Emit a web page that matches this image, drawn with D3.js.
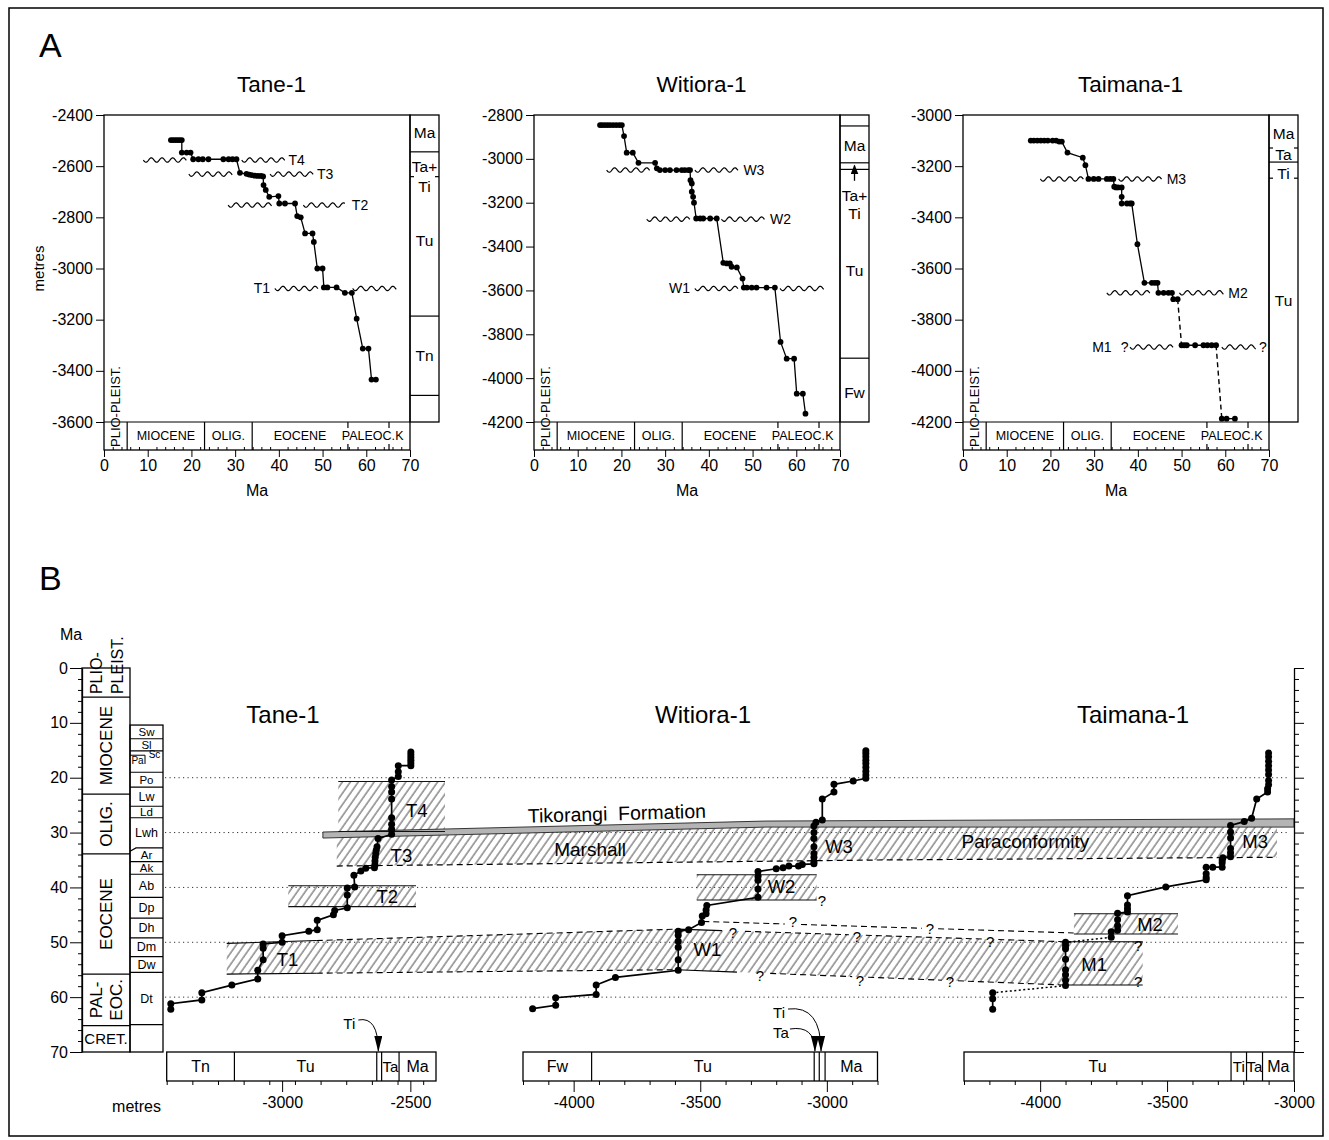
<!DOCTYPE html>
<html>
<head>
<meta charset="utf-8">
<script src="https://cdn.jsdelivr.net/npm/d3@7/dist/d3.min.js"></script>
<style>
  body { margin: 0; background: #fff; }
  svg text { font-family: "Liberation Sans", Arial, Helvetica, sans-serif; fill: #000; }
</style>
</head>
<body>
<svg id="fig" width="1329" height="1140"></svg>
<script>
// ---- age (Ma) / depth (m) picks for each well ----
const tanePoints = [[15.3,-2498],[15.8,-2498],[16.3,-2498],[16.8,-2498],[17.3,-2498],[17.8,-2498],
  [17.8,-2547],[18.9,-2547],[19.8,-2547],[20.4,-2573],[21.6,-2573],[22.6,-2573],[23.9,-2573],
  [27.3,-2573],[28.5,-2573],[29.4,-2573],[30.3,-2573],[31.1,-2626],[32.6,-2630],[33.2,-2633],
  [33.8,-2635],[34.5,-2637],[35.2,-2638],[35.9,-2638],[36.4,-2640],[36.5,-2674],[37.0,-2693],
  [37.8,-2720],[39.9,-2717],[40.1,-2746],[41.4,-2746],[43.7,-2746],[44.2,-2795],[45.0,-2800],
  [46.0,-2863],[47.7,-2863],[48.0,-2896],[48.8,-3000],[50.0,-3000],[50.3,-3074],[51.1,-3074],
  [53.2,-3074],[55.1,-3095],[56.7,-3095],[57.8,-3196],[59.2,-3313],[60.5,-3313],[61.2,-3434],[62.2,-3434]];
const witioraPoints = [[15.1,-2846],[15.6,-2846],[16.2,-2846],[16.8,-2846],[17.4,-2846],[18.1,-2846],
  [18.8,-2846],[19.5,-2846],[20.1,-2846],[20.6,-2896],[21.2,-2972],[22.6,-2972],[23.9,-3018],
  [27.7,-3018],[28.1,-3043],[28.8,-3051],[30.0,-3051],[31.1,-3051],[32.6,-3051],[33.8,-3051],
  [34.5,-3051],[35.3,-3051],[35.7,-3051],[35.8,-3097],[36.1,-3112],[36.1,-3150],[36.4,-3173],
  [36.6,-3200],[37.1,-3272],[38.0,-3272],[38.7,-3272],[40.3,-3272],[41.8,-3272],[43.3,-3474],
  [44.1,-3477],[44.8,-3477],[45.2,-3492],[46.4,-3495],[47.7,-3546],[48.0,-3587],[48.7,-3587],
  [49.8,-3587],[50.9,-3587],[53.2,-3587],[55.1,-3587],[56.4,-3835],[57.8,-3911],[59.5,-3911],
  [60.1,-4071],[61.5,-4071],[62.1,-4162]];
const taimanaUpper = [[15.5,-3100],[16.2,-3100],[17.0,-3100],[17.8,-3100],[18.6,-3100],[19.4,-3100],
  [20.5,-3100],[21.3,-3100],[22.0,-3104],[22.6,-3104],[23.9,-3147],[27.4,-3167],[28.0,-3196],
  [28.7,-3250],[29.9,-3250],[31.0,-3250],[32.9,-3250],[33.7,-3250],[34.4,-3250],[34.6,-3280],
  [35.0,-3283],[35.5,-3283],[36.3,-3283],[36.3,-3320],[36.3,-3346],[37.5,-3346],[38.2,-3346],
  [38.6,-3346],[39.9,-3505],[41.5,-3656],[43.2,-3656],[43.9,-3656],[44.5,-3656],[44.7,-3695],
  [45.9,-3695],[47.0,-3695],[47.8,-3695],[48.1,-3720],[49.1,-3720]];
const taimanaMiddle = [[50.0,-3900],[50.6,-3900],[51.2,-3900],[53.1,-3900],[55.0,-3900],[55.9,-3900],[56.9,-3900],[57.9,-3900]];
const taimanaLower = [[59.2,-4187],[60.3,-4187],[62.2,-4187]];

// unconformities, panel A: [name, depth, wavy age spans, label age, label side, '?' ages]
const taneUnconf = [
  ['T4', -2576, [[9, 18.9], [31.5, 41.4]], 42.2, 'r', []],
  ['T3', -2631, [[19.4, 29.4], [38, 47.9]], 48.7, 'r', []],
  ['T2', -2752, [[28.4, 38.4], [45.6, 55.1]], 56.7, 'r', []],
  ['T1', -3078, [[39.1, 49], [56.9, 66.9]], 38.0, 'l', []]];
const witioraUnconf = [
  ['W3', -3051, [[16.6, 26.5], [36.8, 46.7]], 47.9, 'r', []],
  ['W2', -3275, [[25.8, 35.7], [42.9, 52.8]], 54, 'r', []],
  ['W1', -3591, [[36.8, 46.7], [56.3, 66.3]], 35.7, 'l', []]];
const taimanaUnconf = [
  ['M3', -3250, [[17.7, 27.6], [35.6, 45.5]], 46.6, 'r', []],
  ['M2', -3695, [[32.9, 42.8], [49.5, 59.6]], 60.7, 'r', []],
  ['M1', -3907, [[38.2, 48.1], [59.2, 67]], 34.0, 'l', [37.0, 68.6]]];

// formation column, panel A: boundary depths [depth, full line?] and labels
const taneColA = [[-2544, 1], [-2641, 0], [-3186, 1], [-3496, 1]];
const taneColLabelsA = [['Ma', -2470], ['Ta+', -2602], ['Ti', -2680], ['Tu', -2889], ['Tn', -3339]];
const witioraColA = [[-2850, 1], [-3018, 1], [-3048, 1], [-3909, 1]];
const witioraColLabelsA = [['Ma', -2941], ['Ta+', -3165], ['Ti', -3247], ['Tu', -3507], ['Fw', -4064]];
const taimanaColA = [[-3129, 0], [-3184, 1], [-3247, 0]];
const taimanaColLabelsA = [['Ma', -3072], ['Ta', -3156], ['Ti', -3228], ['Tu', -3724]];

// formation units along the depth axes of panel B: [name, deep, shallow]
const taneUnits = [['Tn', -3450, -3186], ['Tu', -3186, -2631], ['', -2631, -2612], ['Ta', -2612, -2544], ['Ma', -2544, -2400]];
const witioraUnits = [['Fw', -4200, -3929], ['Tu', -3929, -3050], ['', -3050, -3030], ['', -3030, -3007], ['Ma', -3007, -2800]];
const taimanaUnits = [['Tu', -4300, -3248], ['Ti', -3248, -3187], ['Ta', -3187, -3124], ['Ma', -3124, -3000]];
const taneNotes = [['Ti', -2625, -29, 1023]];
const witioraNotes = [['Ti', -3023, -42, 1012], ['Ta', -3047, -34, 1032]];

// time scale
const epochBounds = [0, 5.3, 23.0, 33.9, 55.8, 65.2, 70];
const epochNamesA = ['PLIO-PLEIST.', 'MIOCENE', 'OLIG.', 'EOCENE', 'PALEOC.', 'K'];
const epochNamesB = [['PLIO-', 'PLEIST.'], ['MIOCENE'], ['OLIG.'], ['EOCENE'], ['PAL-', 'EOC.'], ['CRET.']];
const stageNames = ['Sw', 'Sl', 'Pa', 'Po', 'Lw', 'Ld', 'Lwh', 'Ar', 'Ak', 'Ab', 'Dp', 'Dh', 'Dm', 'Dw', 'Dt', ''];
const stageBounds = [10.4, 12.9, 15.1, 19.0, 21.7, 25.2, 27.3, 32.8, 35.3, 37.6, 41.8, 45.6, 49.2, 52.6, 55.5, 65.0, 70];
const gridAges = [20, 30, 40, 50, 60];

// correlation bands of panel B: [well, depth, age]
const tikorangiTop = [['tane', -2841, 29.9], ['witiora', -3240, 27.9], ['taimana', -3000, 27.5]];
const tikorangiBase = [['tane', -2841, 31.0], ['witiora', -3240, 29.0], ['taimana', -3000, 29.0]];
const marshallTop = [['tane', -2787, 30.9], ['witiora', -3240, 29.0], ['taimana', -3067, 29.0]];
const marshallBase = [['tane', -2787, 36.1], ['witiora', -2800, 35.0], ['taimana', -3067, 34.5]];
const lowerTop = [['tane', -3216, 50.2], ['witiora', -3592, 47.6], ['taimana', -3900, 49.9], ['taimana', -3596, 49.9]];
const lowerBase = [['tane', -3216, 55.8], ['witiora', -3592, 55.0], ['taimana', -3900, 57.8], ['taimana', -3596, 57.8]];
const upperLink = [['witiora', -3488, 46.2], ['taimana', -3868, 48.3]];
// [well, deep, shallow, older age, younger age]
const rectBands = [['tane', -2781, -2365, 29.8, 20.7], ['tane', -2976, -2478, 43.5, 39.7],
  ['witiora', -3514, -3040, 42.3, 37.7], ['taimana', -3867, -3457, 48.5, 44.8]];
// edge pieces: [edge, from, to, dashed]
const lowerEdges = [
  ['top', ['tane', -3216], ['tane', -2865], 0], ['top', ['tane', -2865], ['witiora', -3592], 1],
  ['top', ['witiora', -3592], ['witiora', -3414], 0], ['top', ['witiora', -3323], ['witiora', -2913], 1],
  ['top', ['witiora', -2846], ['taimana', -4229], 1], ['top', ['taimana', -4165], ['taimana', -3900], 1],
  ['top', ['taimana', -3900], ['taimana', -3596], 0],
  ['base', ['tane', -3216], ['tane', -2865], 0], ['base', ['tane', -2865], ['witiora', -3592], 1],
  ['base', ['witiora', -3592], ['witiora', -3355], 0], ['base', ['witiora', -3224], ['witiora', -2900], 1],
  ['base', ['witiora', -2837], ['taimana', -4387], 1], ['base', ['taimana', -4324], ['taimana', -3900], 1],
  ['base', ['taimana', -3900], ['taimana', -3596], 0],
  ['link', ['witiora', -3488], ['witiora', -3166], 1], ['link', ['witiora', -3102], ['taimana', -4466], 1],
  ['link', ['taimana', -4402], ['taimana', -3868], 1]];
const queryMarks = [['witiora', -3019, 42.3], ['witiora', -3371, 48.3], ['witiora', -2881, 49.0],
  ['taimana', -4197, 49.9], ['taimana', -3614, 50.5], ['witiora', -3264, 56.0], ['witiora', -2869, 56.9],
  ['taimana', -4355, 57.2], ['taimana', -3614, 57.2], ['witiora', -3134, 46.3], ['taimana', -4434, 47.4]];
const bandLabels = [['T4', 'tane', -2475, 25.9], ['T3', 'tane', -2535, 34.1], ['T2', 'tane', -2590, 41.7],
  ['T1', 'tane', -2979, 53.2], ['W3', 'witiora', -2952, 32.6], ['W2', 'witiora', -3179, 39.9],
  ['W1', 'witiora', -3472, 51.4], ['M3', 'taimana', -3153, 31.7], ['M2', 'taimana', -3567, 46.8],
  ['M1', 'taimana', -3787, 54.1], ['Marshall', 'witiora', -3935, 33.0], ['Paraconformity', 'taimana', -4058, 31.7]];

const wells = [
  {key: 'tane', name: 'Tane-1', runs: [tanePoints], unconf: taneUnconf, aX: 104, aDomain: [-2400, -3600],
   colA: taneColA, colLabelsA: taneColLabelsA, aArrow: null,
   bDomain: [-3450, -2400], bRange: [166.7, 436], units: taneUnits, bMajor: [-3000, -2500], notes: taneNotes, bTitleX: 283},
  {key: 'witiora', name: 'Witiora-1', runs: [witioraPoints], unconf: witioraUnconf, aX: 534, aDomain: [-2800, -4200],
   colA: witioraColA, colLabelsA: witioraColLabelsA, aArrow: [-3100, -3030],
   bDomain: [-4200, -2800], bRange: [523, 877.5], units: witioraUnits, bMajor: [-4000, -3500, -3000], notes: witioraNotes, bTitleX: 703},
  {key: 'taimana', name: 'Taimana-1', runs: [taimanaUpper, taimanaMiddle, taimanaLower], unconf: taimanaUnconf, aX: 963, aDomain: [-3000, -4200],
   colA: taimanaColA, colLabelsA: taimanaColLabelsA, aArrow: null,
   bDomain: [-4300, -3000], bRange: [964, 1294], units: taimanaUnits, bMajor: [-4000, -3500, -3000], notes: [], bTitleX: 1133}
];

const svg = d3.select('#fig');
const defs = svg.append('defs');
defs.append('pattern').attr('id', 'hatch').attr('patternUnits', 'userSpaceOnUse')
  .attr('width', 6.5).attr('height', 6.5).attr('patternTransform', 'rotate(35)')
  .append('line').attr('x1', 1).attr('y1', 0).attr('x2', 1).attr('y2', 6.5)
  .attr('stroke', '#3a3a3a').attr('stroke-width', 0.9);
defs.append('marker').attr('id', 'arrowB').attr('markerUnits', 'userSpaceOnUse')
  .attr('viewBox', '0 0 16 8').attr('refX', 15).attr('refY', 4)
  .attr('markerWidth', 16).attr('markerHeight', 8).attr('orient', 'auto')
  .append('path').attr('d', 'M0,0 L16,4 L0,8 Z').attr('fill', '#000');
defs.append('marker').attr('id', 'arrowA').attr('markerUnits', 'userSpaceOnUse')
  .attr('viewBox', '0 0 10 8').attr('refX', 9).attr('refY', 4)
  .attr('markerWidth', 10).attr('markerHeight', 8).attr('orient', 'auto')
  .append('path').attr('d', 'M0,0 L10,4 L0,8 Z').attr('fill', '#000');

svg.append('rect').attr('x', 9).attr('y', 8).attr('width', 1314).attr('height', 1128)
  .attr('fill', 'none').attr('stroke', '#000').attr('stroke-width', 1.5);
svg.append('text').attr('x', 39).attr('y', 57).attr('font-size', 34).text('A');
svg.append('text').attr('x', 39).attr('y', 590).attr('font-size', 34).text('B');

// ================= panel A =================
const aTop = 115, aBot = 422, aAxisY = 450, aW = 306, aColW = 29;

function wavePath(xa, xb, yy) {
  let s = '';
  for (let px = xa; px <= xb; px += 0.5) {
    s += (s ? 'L' : 'M') + px.toFixed(1) + ',' + (yy + 2.2 * Math.sin((px - xa) / 10.7 * 2 * Math.PI)).toFixed(2);
  }
  return s;
}

wells.forEach(w => {
  const x = d3.scaleLinear().domain([0, 70]).range([w.aX, w.aX + aW]);
  const y = d3.scaleLinear().domain(w.aDomain).range([aTop, aBot]);
  const g = svg.append('g');

  g.append('text').attr('x', w.aX + (aW + aColW) / 2).attr('y', 92)
    .attr('text-anchor', 'middle').attr('font-size', 22.5).text(w.name);

  g.append('rect').attr('x', w.aX).attr('y', aTop).attr('width', aW).attr('height', aAxisY - aTop)
    .attr('fill', 'none').attr('stroke', '#000').attr('stroke-width', 1.3);

  const ya = g.append('g').attr('transform', `translate(${w.aX},0)`)
    .call(d3.axisLeft(y).tickValues(d3.range(w.aDomain[0], w.aDomain[1] - 1, -200))
      .tickSize(8).tickPadding(3).tickSizeOuter(0).tickFormat(d => d));
  ya.select('.domain').remove();
  ya.attr('font-size', 16);

  const xa = g.append('g').attr('transform', `translate(0,${aAxisY})`)
    .call(d3.axisBottom(x).tickValues(d3.range(0, 71, 10)).tickSize(7).tickPadding(3).tickSizeOuter(0));
  xa.select('.domain').remove();
  xa.attr('font-size', 16);
  const xm = g.append('g').attr('transform', `translate(0,${aAxisY})`)
    .call(d3.axisTop(x).tickValues(d3.range(2, 70, 2).filter(v => v % 10)).tickSize(3).tickFormat(''));
  xm.select('.domain').remove();

  g.append('text').attr('x', w.aX + aW / 2).attr('y', 496).attr('text-anchor', 'middle')
    .attr('font-size', 16).text('Ma');
  if (w.key === 'tane') {
    g.append('text').attr('transform', `translate(44,${(aTop + aBot) / 2}) rotate(-90)`)
      .attr('text-anchor', 'middle').attr('font-size', 15).text('metres');
  }

  // epoch bar
  g.append('line').attr('x1', w.aX).attr('x2', w.aX + aW).attr('y1', aBot).attr('y2', aBot)
    .attr('stroke', '#000').attr('stroke-width', 1.2);
  epochBounds.slice(1, -1).forEach((b, i) => {
    if (i < 3) {
      g.append('line').attr('x1', x(b)).attr('x2', x(b)).attr('y1', aBot).attr('y2', aAxisY)
        .attr('stroke', '#000').attr('stroke-width', 1.2);
    } else {
      [[aBot, aBot + 6], [aAxisY - 6, aAxisY]].forEach(([a, c]) =>
        g.append('line').attr('x1', x(b)).attr('x2', x(b)).attr('y1', a).attr('y2', c)
          .attr('stroke', '#000').attr('stroke-width', 1.2));
    }
  });
  epochNamesA.forEach((n, i) => {
    const mid = (epochBounds[i] + epochBounds[i + 1]) / 2;
    if (i === 0) {
      g.append('text').attr('transform', `translate(${x(mid) + 4.5},${aAxisY - 3}) rotate(-90)`)
        .attr('font-size', 13).text(n);
    } else {
      g.append('text').attr('x', x(mid)).attr('y', aBot + 14).attr('dominant-baseline', 'central')
        .attr('text-anchor', 'middle').attr('font-size', 12.5).text(n);
    }
  });

  // formation column
  const cx0 = w.aX + aW;
  g.append('rect').attr('x', cx0).attr('y', aTop).attr('width', aColW).attr('height', aBot - aTop)
    .attr('fill', 'none').attr('stroke', '#000').attr('stroke-width', 1.3);
  w.colA.forEach(([d, full]) => {
    const segs = full ? [[cx0, cx0 + aColW]] : [[cx0, cx0 + 4], [cx0 + aColW - 4, cx0 + aColW]];
    segs.forEach(([a, b]) => g.append('line').attr('x1', a).attr('x2', b).attr('y1', y(d)).attr('y2', y(d))
      .attr('stroke', '#000').attr('stroke-width', 1.2));
  });
  w.colLabelsA.forEach(([t, d]) => g.append('text').attr('x', cx0 + aColW / 2).attr('y', y(d))
    .attr('dominant-baseline', 'central').attr('text-anchor', 'middle').attr('font-size', 15.5).text(t));
  if (w.aArrow) {
    g.append('line').attr('x1', cx0 + aColW / 2).attr('x2', cx0 + aColW / 2)
      .attr('y1', y(w.aArrow[0])).attr('y2', y(w.aArrow[1]))
      .attr('stroke', '#000').attr('stroke-width', 1.3).attr('marker-end', 'url(#arrowA)');
  }

  // unconformities
  w.unconf.forEach(([name, d, spans, la, side, qs]) => {
    spans.forEach(s => g.append('path').attr('d', wavePath(x(s[0]), x(s[1]), y(d)))
      .attr('fill', 'none').attr('stroke', '#000').attr('stroke-width', 1.2));
    g.append('text').attr('x', x(la)).attr('y', y(d)).attr('dominant-baseline', 'central')
      .attr('text-anchor', side === 'r' ? 'start' : 'end').attr('font-size', 14).text(name);
    qs.forEach(q => g.append('text').attr('x', x(q)).attr('y', y(d)).attr('dominant-baseline', 'central')
      .attr('text-anchor', 'middle').attr('font-size', 14).text('?'));
  });

  // age-depth profile
  const line = d3.line().x(d => x(d[0])).y(d => y(d[1]));
  w.runs.forEach((run, i) => {
    g.append('path').attr('d', line(run)).attr('fill', 'none').attr('stroke', '#000').attr('stroke-width', 1.3);
    if (i > 0) {
      const prev = w.runs[i - 1];
      g.append('path').attr('d', line([prev[prev.length - 1], run[0]])).attr('fill', 'none')
        .attr('stroke', '#000').attr('stroke-width', 1.4).attr('stroke-dasharray', '5,3.5');
    }
  });
  g.selectAll('circle.pt').data(w.runs.flat()).join('circle').attr('class', 'pt')
    .attr('cx', d => x(d[0])).attr('cy', d => y(d[1])).attr('r', 2.9).attr('fill', '#000');
});

// ================= panel B =================
const yB = d3.scaleLinear().domain([0, 70]).range([668, 1052]);
const bx = {};
wells.forEach(w => { bx[w.key] = d3.scaleLinear().domain(w.bDomain).range(w.bRange); });
const P = a => [bx[a[0]](a[1]), yB(a[2])];
const gB = svg.append('g');

function piece(anchors, from, to) {
  const poly = anchors.map(P);
  const xa = bx[from[0]](from[1]), xb = bx[to[0]](to[1]);
  const yAt = xx => {
    for (let i = 0; i < poly.length - 1; i++) {
      const [x0, y0] = poly[i], [x1, y1] = poly[i + 1];
      if (xx >= x0 - 0.01 && xx <= x1 + 0.01) return y0 + (y1 - y0) * (xx - x0) / ((x1 - x0) || 1);
    }
    return xx < poly[0][0] ? poly[0][1] : poly[poly.length - 1][1];
  };
  const pts = [[xa, yAt(xa)]];
  poly.forEach(p => { if (p[0] > xa && p[0] < xb) pts.push(p); });
  pts.push([xb, yAt(xb)]);
  return pts;
}

// dotted age lines
gridAges.forEach(t => gB.append('line').attr('x1', 165).attr('x2', 1290).attr('y1', yB(t)).attr('y2', yB(t))
  .attr('stroke', '#333').attr('stroke-width', 1).attr('stroke-dasharray', '1.2,3.3'));

// hatched hiatus bands
rectBands.forEach(([wk, d0, d1, a0, a1]) => {
  gB.append('rect').attr('x', bx[wk](d0)).attr('width', bx[wk](d1) - bx[wk](d0))
    .attr('y', yB(a1)).attr('height', yB(a0) - yB(a1)).attr('fill', 'url(#hatch)');
});
const polyLine = d3.line();
gB.append('path').attr('d', polyLine(marshallTop.concat(marshallBase.slice().reverse()).map(P)) + 'Z')
  .attr('fill', 'url(#hatch)');
gB.append('path').attr('d', polyLine(lowerTop.concat(lowerBase.slice().reverse()).map(P)) + 'Z')
  .attr('fill', 'url(#hatch)');

// Tikorangi Formation
gB.append('path').attr('d', polyLine(tikorangiTop.concat(tikorangiBase.slice().reverse()).map(P)) + 'Z')
  .attr('fill', '#b4b4b4').attr('stroke', '#222').attr('stroke-width', 0.9);

// band edges
rectBands.forEach(([wk, d0, d1, a0, a1]) => {
  [a0, a1].forEach(a => gB.append('line').attr('x1', bx[wk](d0)).attr('x2', bx[wk](d1))
    .attr('y1', yB(a)).attr('y2', yB(a)).attr('stroke', '#111').attr('stroke-width', 1.1));
});
gB.append('path').attr('d', polyLine(marshallBase.map(P))).attr('fill', 'none')
  .attr('stroke', '#000').attr('stroke-width', 1.2).attr('stroke-dasharray', '6,4');
const edgeSource = {top: lowerTop, base: lowerBase, link: upperLink};
lowerEdges.forEach(([edge, from, to, dashed]) => {
  gB.append('path').attr('d', polyLine(piece(edgeSource[edge], from, to))).attr('fill', 'none')
    .attr('stroke', '#000').attr('stroke-width', 1.1).attr('stroke-dasharray', dashed ? '6,4' : null);
});

// left time scale
const maAxis = gB.append('g').attr('transform', 'translate(82,0)')
  .call(d3.axisLeft(yB).tickValues(d3.range(0, 71, 10)).tickSize(12).tickPadding(2).tickSizeOuter(0));
maAxis.attr('font-size', 16);
maAxis.select('.domain').attr('stroke-width', 1.3);
const maMinor = gB.append('g').attr('transform', 'translate(82,0)')
  .call(d3.axisLeft(yB).tickValues(d3.range(2, 70, 2).filter(v => v % 10)).tickSize(4).tickFormat(''));
maMinor.select('.domain').remove();
gB.append('text').attr('x', 60).attr('y', 640).attr('font-size', 16).text('Ma');

gB.append('rect').attr('x', 82).attr('y', yB(0)).attr('width', 48).attr('height', yB(70) - yB(0))
  .attr('fill', 'none').attr('stroke', '#000').attr('stroke-width', 1.3);
epochBounds.slice(1, -1).forEach(b => gB.append('line').attr('x1', 82).attr('x2', 130)
  .attr('y1', yB(b)).attr('y2', yB(b)).attr('stroke', '#000').attr('stroke-width', 1.3));
epochNamesB.forEach((lines, i) => {
  const mid = (epochBounds[i] + epochBounds[i + 1]) / 2;
  if (i === 0) {
    [[101.5, lines[0]], [123, lines[1]]].forEach(([xx, t]) =>
      gB.append('text').attr('transform', `translate(${xx},${yB(epochBounds[1]) - 3}) rotate(-90)`)
        .attr('font-size', 16).text(t));
  } else if (lines[0] === 'CRET.') {
    gB.append('text').attr('x', 106).attr('y', yB(mid)).attr('dominant-baseline', 'central')
      .attr('text-anchor', 'middle').attr('font-size', 15).text(lines[0]);
  } else if (lines.length === 2) {
    [[101.5, lines[0]], [122, lines[1]]].forEach(([xx, t]) =>
      gB.append('text').attr('transform', `translate(${xx},${yB(mid)}) rotate(-90)`)
        .attr('text-anchor', 'middle').attr('font-size', 17).text(t));
  } else {
    gB.append('text').attr('transform', `translate(${112},${yB(mid)}) rotate(-90)`)
      .attr('text-anchor', 'middle').attr('font-size', 17).text(lines[0]);
  }
});

gB.append('rect').attr('x', 130).attr('y', yB(stageBounds[0])).attr('width', 33)
  .attr('height', yB(70) - yB(stageBounds[0])).attr('fill', 'none').attr('stroke', '#000').attr('stroke-width', 1.3);
stageBounds.slice(1, -1).forEach((b, i) => {
  if (stageNames[i + 1] === 'Ar') {
    gB.append('path').attr('d', `M130,${yB(b + 0.6)}L136,${yB(b)}L163,${yB(b)}`)
      .attr('fill', 'none').attr('stroke', '#000').attr('stroke-width', 1.2);
  } else {
    gB.append('line').attr('x1', 130).attr('x2', 163).attr('y1', yB(b)).attr('y2', yB(b))
      .attr('stroke', '#000').attr('stroke-width', 1.2);
  }
});
stageNames.forEach((n, i) => {
  if (!n) return;
  const mid = (stageBounds[i] + stageBounds[i + 1]) / 2;
  if (n === 'Pa') {
    gB.append('path').attr('d', `M130,${yB(15.9)}H145V${yB(17.5)}`).attr('fill', 'none')
      .attr('stroke', '#000').attr('stroke-width', 1);
    gB.append('text').attr('x', 137.5).attr('y', yB(16.8)).attr('dominant-baseline', 'central')
      .attr('text-anchor', 'middle').attr('font-size', 10).text('Pa');
    gB.append('text').attr('x', 154.5).attr('y', yB(15.7)).attr('dominant-baseline', 'central')
      .attr('text-anchor', 'middle').attr('font-size', 10).text('Sc');
    return;
  }
  const fs = (stageBounds[i + 1] - stageBounds[i]) < 2.7 ? 11.5 : 12.5;
  gB.append('text').attr('x', 146.5).attr('y', yB(mid)).attr('dominant-baseline', 'central')
    .attr('text-anchor', 'middle').attr('font-size', fs).text(n);
});

// right age axis
const rAxis = gB.append('g').attr('transform', 'translate(1294,0)')
  .call(d3.axisRight(yB).tickValues(d3.range(0, 71, 10)).tickSize(10).tickSizeOuter(0).tickFormat(''));
rAxis.select('.domain').attr('stroke-width', 1.3);
const rMinor = gB.append('g').attr('transform', 'translate(1294,0)')
  .call(d3.axisRight(yB).tickValues(d3.range(2, 70, 2).filter(v => v % 10)).tickSize(5).tickFormat(''));
rMinor.select('.domain').remove();

// depth axes with formation boxes
const boxTop = 1052, boxBot = 1081;
wells.forEach(w => {
  const sx = bx[w.key];
  gB.append('text').attr('x', w.bTitleX).attr('y', 723).attr('text-anchor', 'middle')
    .attr('font-size', 24).text(w.name);
  gB.append('rect').attr('x', sx(w.bDomain[0])).attr('y', boxTop)
    .attr('width', sx(w.bDomain[1]) - sx(w.bDomain[0])).attr('height', boxBot - boxTop)
    .attr('fill', 'none').attr('stroke', '#000').attr('stroke-width', 1.3);
  w.units.forEach(([n, d0, d1], i) => {
    if (i < w.units.length - 1) {
      gB.append('line').attr('x1', sx(d1)).attr('x2', sx(d1)).attr('y1', boxTop).attr('y2', boxBot)
        .attr('stroke', '#000').attr('stroke-width', 1.2);
    }
    if (n) {
      gB.append('text').attr('x', (sx(d0) + sx(d1)) / 2).attr('y', (boxTop + boxBot) / 2)
        .attr('dominant-baseline', 'central').attr('text-anchor', 'middle')
        .attr('font-size', n === 'Ti' || n === 'Ta' ? 15 : 16).text(n);
    }
  });
  const ax = gB.append('g').attr('transform', `translate(0,${boxBot})`)
    .call(d3.axisBottom(sx).tickValues(w.bMajor).tickSize(11).tickPadding(5).tickSizeOuter(0).tickFormat(d => d));
  ax.select('.domain').remove();
  ax.attr('font-size', 16);
  const axm = gB.append('g').attr('transform', `translate(0,${boxBot})`)
    .call(d3.axisBottom(sx).tickValues(d3.range(w.bDomain[0], w.bDomain[1] + 1, 100).filter(v => v % 500 !== 0))
      .tickSize(4).tickFormat(''));
  axm.select('.domain').remove();
  w.notes.forEach(([t, d, dx, ly]) => {
    const tx = sx(d);
    gB.append('text').attr('x', tx + dx).attr('y', ly).attr('dominant-baseline', 'central')
      .attr('text-anchor', 'middle').attr('font-size', 15).text(t);
    const sx0 = tx + dx + 9, sy0 = ly - 3;
    gB.append('path').attr('d', `M${sx0},${sy0}Q${tx},${sy0 - 4} ${tx},${boxTop - 1}`)
      .attr('fill', 'none').attr('stroke', '#000').attr('stroke-width', 1)
      .attr('marker-end', 'url(#arrowB)');
  });
});
gB.append('text').attr('x', 161).attr('y', 1112).attr('text-anchor', 'end').attr('font-size', 16).text('metres');

// age-depth profiles
wells.forEach(w => {
  const sx = bx[w.key];
  const line = d3.line().x(d => sx(d[1])).y(d => yB(d[0]));
  w.runs.forEach((run, i) => {
    gB.append('path').attr('d', line(run)).attr('fill', 'none').attr('stroke', '#000').attr('stroke-width', 1.7);
    if (i > 0) {
      const prev = w.runs[i - 1];
      gB.append('path').attr('d', line([prev[prev.length - 1], run[0]])).attr('fill', 'none')
        .attr('stroke', '#000').attr('stroke-width', 1.5).attr('stroke-dasharray', '2,2.5');
    }
  });
  gB.selectAll(null).data(w.runs.flat()).join('circle')
    .attr('cx', d => sx(d[1])).attr('cy', d => yB(d[0])).attr('r', 3.5).attr('fill', '#000');
});

// labels
bandLabels.forEach(([t, wk, d, a]) => gB.append('text').attr('x', bx[wk](d)).attr('y', yB(a))
  .attr('dominant-baseline', 'central').attr('text-anchor', 'middle')
  .attr('font-size', t.length > 2 ? 19 : 18.5).text(t));
queryMarks.forEach(([wk, d, a]) => gB.append('text').attr('x', bx[wk](d)).attr('y', yB(a))
  .attr('dominant-baseline', 'central').attr('text-anchor', 'middle').attr('font-size', 15).text('?'));
gB.append('text').attr('transform', `translate(${bx.witiora(-4180)},${yB(28.2)}) rotate(-1.6)`)
  .attr('font-size', 19.5).attr('xml:space', 'preserve').text('Tikorangi\u00a0 Formation');
</script>
</body>
</html>
